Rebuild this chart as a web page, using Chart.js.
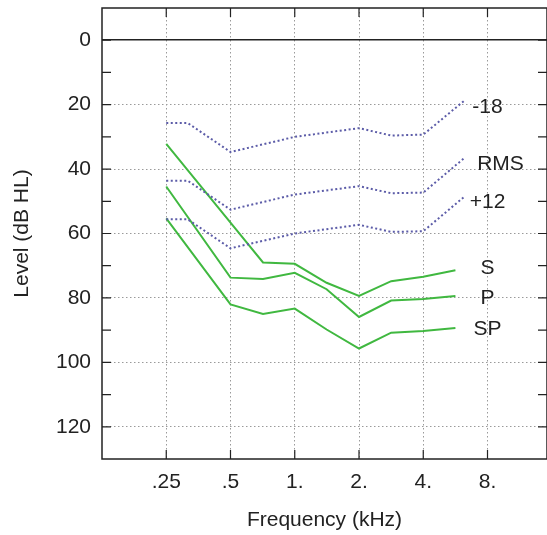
<!DOCTYPE html>
<html lang="en">

<head>
    <meta charset="UTF-8">
    <title>Levels vs frequency</title>
    <script src="https://cdn.jsdelivr.net/npm/chart.js"></script>
    <style>
        html, body { margin: 0; padding: 0; background: #fff; }
        #wrap { width: 547px; height: 535px; }
    </style>
</head>

<body>
    <div id="wrap"><canvas id="chart"></canvas></div>
    <script>
        // frequencies in kHz
        const freqTicks = [0.25, 0.5, 1, 2, 4, 8];
        const freqLabels = ['.25', '.5', '1.', '2.', '4.', '8.'];

        // dotted curves (speech level band)
        const bandFreqs = [0.25, 0.315, 0.5, 1, 2, 2.83, 4, 6.3];
        const minus18 = [25.7, 25.7, 34.7, 30, 27.3, 29.6, 29.3, 18.5];
        const rms = [43.6, 43.6, 52.6, 47.9, 45.3, 47.5, 47.3, 36.3];
        const plus12 = [55.6, 55.6, 64.6, 60, 57.3, 59.5, 59.3, 48.3];

        // green curves
        const greenFreqs = [0.25, 0.5, 0.71, 1, 1.41, 2, 2.83, 4, 5.66];
        const sLevels = [32.2, 56.6, 69, 69.4, 75.3, 79.4, 74.8, 73.4, 71.4];
        const pLevels = [45.4, 73.7, 74.1, 72.2, 77.3, 85.9, 80.8, 80.3, 79.4];
        const spLevels = [55.3, 82, 85, 83.3, 89.8, 95.7, 90.8, 90.3, 89.3];

        const FONT = "'Liberation Sans', Arial, sans-serif";
        const INK = '#222';

        function pts(xs, ys) {
            return xs.map((x, i) => ({ x: x, y: ys[i] }));
        }

        function dotted(label, xs, ys, dx, dy) {
            return {
                label: label, data: pts(xs, ys),
                borderColor: '#5c5ca8', borderWidth: 2, borderDash: [2, 2.5],
                pointRadius: 0, tension: 0,
                tagDx: dx, tagDy: dy
            };
        }

        function solid(label, xs, ys, dx, dy) {
            return {
                label: label, data: pts(xs, ys),
                borderColor: '#40b840', borderWidth: 2,
                pointRadius: 0, tension: 0,
                tagDx: dx, tagDy: dy
            };
        }

        // frame, inward ticks and curve names
        const decor = {
            id: 'decor',
            afterDraw(chart) {
                const { ctx, chartArea: a, scales: { x, y } } = chart;
                ctx.save();
                ctx.strokeStyle = INK;
                ctx.lineWidth = 1.5;
                ctx.strokeRect(a.left, a.top, a.right - a.left, a.bottom - a.top);

                ctx.lineWidth = 1.2;
                ctx.beginPath();
                y.ticks.forEach(t => {
                    if (t.value <= y.min || t.value >= y.max) return;
                    const py = y.getPixelForValue(t.value);
                    ctx.moveTo(a.left, py); ctx.lineTo(a.left + 9, py);
                    ctx.moveTo(a.right, py); ctx.lineTo(a.right - 9, py);
                });
                x.ticks.forEach(t => {
                    const px = x.getPixelForValue(t.value);
                    ctx.moveTo(px, a.top); ctx.lineTo(px, a.top + 9);
                    ctx.moveTo(px, a.bottom); ctx.lineTo(px, a.bottom - 9);
                });
                ctx.stroke();

                ctx.fillStyle = INK;
                ctx.font = '21px ' + FONT;
                ctx.textAlign = 'center';
                ctx.textBaseline = 'middle';
                const tagX = x.getPixelForValue(8);
                chart.data.datasets.forEach(ds => {
                    const last = ds.data[ds.data.length - 1];
                    ctx.fillText(ds.label, tagX + ds.tagDx, y.getPixelForValue(last.y) + ds.tagDy);
                });
                ctx.restore();
            }
        };

        new Chart(document.getElementById('chart'), {
            type: 'line',
            data: {
                datasets: [
                    dotted('-18', bandFreqs, minus18, 0, 7),
                    dotted('RMS', bandFreqs, rms, 13, 7),
                    dotted('+12', bandFreqs, plus12, 0, 6.5),
                    solid('S', greenFreqs, sLevels, 0, -2.5),
                    solid('P', greenFreqs, pLevels, 0, 2),
                    solid('SP', greenFreqs, spLevels, 0, 1)
                ]
            },
            options: {
                responsive: true,
                maintainAspectRatio: false,
                animation: false,
                layout: { padding: { top: 8, right: 0, bottom: 0, left: 0 } },
                plugins: {
                    legend: { display: false },
                    tooltip: { enabled: false }
                },
                scales: {
                    x: {
                        type: 'logarithmic',
                        min: 0.125,
                        max: 15.2,
                        afterBuildTicks: s => { s.ticks = freqTicks.map(v => ({ value: v })); },
                        afterFit: s => { s.height = 76; s.paddingLeft = 0; s.paddingRight = 0; },
                        ticks: {
                            autoSkip: false,
                            maxRotation: 0,
                            padding: 11,
                            color: INK,
                            font: { family: FONT, size: 21 },
                            callback: (v, i) => freqLabels[i]
                        },
                        grid: { color: '#9a9a9a', lineWidth: 1, drawTicks: false },
                        border: { display: false, dash: [1.5, 2.5] },
                        title: {
                            display: true,
                            text: 'Frequency (kHz)',
                            color: INK,
                            font: { family: FONT, size: 21 },
                            padding: { top: 0, bottom: 2 }
                        }
                    },
                    y: {
                        type: 'linear',
                        reverse: true,
                        min: -10,
                        max: 130,
                        afterFit: s => { s.width = 102; s.paddingTop = 0; s.paddingBottom = 0; },
                        ticks: {
                            stepSize: 10,
                            padding: 11,
                            color: INK,
                            font: { family: FONT, size: 21 },
                            callback: v => (v % 20 === 0 && v >= 0 && v <= 120) ? String(v) : ''
                        },
                        grid: {
                            drawTicks: false,
                            lineWidth: c => c.tick && c.tick.value === 0 ? 1.6 : 1,
                            color: c => {
                                const v = c.tick ? c.tick.value : null;
                                if (v === 0) return INK;
                                if (v > 0 && v < 130 && v % 20 === 0) return '#9a9a9a';
                                return 'rgba(0,0,0,0)';
                            }
                        },
                        border: {
                            display: false,
                            dash: c => c.tick && c.tick.value === 0 ? [] : [1.5, 2.5]
                        },
                        title: {
                            display: true,
                            text: 'Level (dB HL)',
                            color: INK,
                            font: { family: FONT, size: 21 },
                            padding: { top: 10, bottom: 0 }
                        }
                    }
                }
            },
            plugins: [decor]
        });
    </script>
</body>

</html>
